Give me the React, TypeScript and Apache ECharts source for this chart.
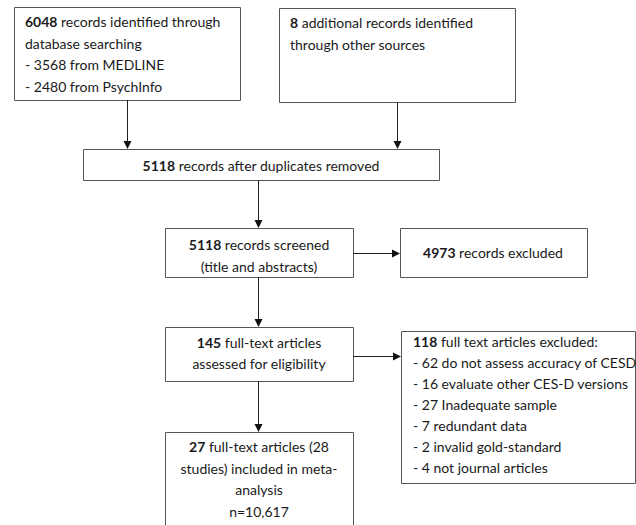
import React, { useEffect, useRef } from "react";
import * as echarts from "echarts";

// ---- Data (texts & counts) ----
const identifiedDb = [6048, 3568, 2480];
const identifiedOther = [8];
const afterDuplicates = [5118];
const screened = [5118];
const excludedScreen = [4973];
const fullTextAssessed = [145];
const fullTextExcluded = [118];
const exclusionReasons = [
  "62 do not assess accuracy of CESD",
  "16 evaluate other CES-D versions",
  "27 Inadequate sample",
  "7 redundant data",
  "2 invalid gold-standard",
  "4 not journal articles",
];
const included = [27];
const includedStudies = ["28"];
const includedN = ["10,617"];

// ---- Box texts built from data ----
const boxTexts = [
  `{b|${identifiedDb[0]}} records identified through\ndatabase searching\n- ${identifiedDb[1]} from MEDLINE\n- ${identifiedDb[2]} from PsychInfo`,
  `{b|${identifiedOther[0]}} additional records identified\nthrough other sources`,
  `{b|${afterDuplicates[0]}} records after duplicates removed`,
  `{b|${screened[0]}} records screened\n(title and abstracts)`,
  `{b|${excludedScreen[0]}} records excluded`,
  `{b|${fullTextAssessed[0]}} full-text articles\nassessed for eligibility`,
  `{b|${fullTextExcluded[0]}} full text articles excluded:\n` +
    exclusionReasons.map((r) => `- ${r}`).join("\n"),
  `{b|${included[0]}} full-text articles (${includedStudies[0]}\nstudies) included in meta-\nanalysis\nn=${includedN[0]}`,
];

// ---- Layout (positions / sizes) ----
const boxes = [
  { x: 14, y: 7, w: 226, h: 93, tx: 25, ty: 11, align: "left", va: "top" },
  { x: 279, y: 8, w: 236, h: 94, tx: 290, ty: 11, align: "left", va: "top" },
  { x: 83, y: 149, w: 356, h: 31, tx: 261, ty: 165, align: "center", va: "middle" },
  { x: 165, y: 228, w: 188, h: 49, tx: 259, ty: 255, align: "center", va: "middle" },
  { x: 400, y: 228, w: 187, h: 49, tx: 493, ty: 252, align: "center", va: "middle" },
  { x: 165, y: 327, w: 188, h: 54, tx: 259, ty: 353, align: "center", va: "middle" },
  { x: 401, y: 331, w: 234, h: 152, tx: 413, ty: 331, align: "left", va: "top" },
  { x: 165, y: 432, w: 188, h: 110, tx: 259, ty: 436, align: "center", va: "top" },
];
const lineHeights = [21.5, 22, 20, 22, 20, 21, 21, 21.5];

const arrows = [
  { x1: 127, y1: 100, x2: 127, y2: 149 },
  { x1: 397, y1: 102, x2: 397, y2: 149 },
  { x1: 258, y1: 180, x2: 258, y2: 228 },
  { x1: 353, y1: 253, x2: 400, y2: 253 },
  { x1: 258, y1: 277, x2: 258, y2: 327 },
  { x1: 353, y1: 356, x2: 401, y2: 356 },
  { x1: 258, y1: 381, x2: 258, y2: 432 },
];

const FONT = "Lato, 'Liberation Sans', sans-serif";
const FS = 14;
const STROKE = "#555555";
const TEXT = "#1a1a1a";

export default function App() {
  const ref = useRef<HTMLDivElement>(null);
  useEffect(() => {
    document.body.style.margin = "0";
    if (!ref.current) return;
    const chart = echarts.init(ref.current, null, { renderer: "svg" });
    const elements: any[] = [];
    boxes.forEach((b, i) => {
      elements.push({
        type: "rect",
        shape: { x: b.x + 0.5, y: b.y + 0.5, width: b.w, height: b.h },
        style: { fill: "#fff", stroke: STROKE, lineWidth: 1 },
        silent: true,
      });
      elements.push({
        type: "text",
        x: b.tx,
        y: b.ty,
        style: {
          text: boxTexts[i],
          fill: TEXT,
          fontFamily: FONT,
          fontSize: FS,
          lineHeight: lineHeights[i],
          align: b.align,
          verticalAlign: b.va,
          rich: {
            b: {
              fontFamily: FONT,
              fontSize: FS,
              fontWeight: "bold",
              lineHeight: lineHeights[i],
              fill: TEXT,
            },
          },
        },
        silent: true,
      });
    });
    arrows.forEach((a) => {
      const vertical = a.x1 === a.x2;
      const hl = 8;
      const hw = 4;
      let lineEnd: number[];
      let head: number[][];
      if (vertical) {
        lineEnd = [a.x2, a.y2 - hl];
        head = [
          [a.x2 - hw, a.y2 - hl],
          [a.x2 + hw, a.y2 - hl],
          [a.x2, a.y2],
        ];
      } else {
        lineEnd = [a.x2 - hl, a.y2];
        head = [
          [a.x2 - hl, a.y2 - hw],
          [a.x2 - hl, a.y2 + hw],
          [a.x2, a.y2],
        ];
      }
      elements.push({
        type: "line",
        shape: {
          x1: a.x1 + (vertical ? 0.5 : 0),
          y1: a.y1 + (vertical ? 0 : 0.5),
          x2: lineEnd[0] + (vertical ? 0.5 : 0),
          y2: lineEnd[1] + (vertical ? 0 : 0.5),
        },
        style: { stroke: "#222", lineWidth: 1 },
        silent: true,
      });
      elements.push({
        type: "polygon",
        shape: {
          points: head.map((p) => [p[0] + (vertical ? 0.5 : 0), p[1] + (vertical ? 0 : 0.5)]),
        },
        style: { fill: "#111" },
        silent: true,
      });
    });
    chart.setOption({
      animation: false,
      backgroundColor: "#fff",
      graphic: { elements },
    });
    return () => chart.dispose();
  }, []);
  return <div ref={ref} style={{ width: 636, height: 525 }} />;
}
